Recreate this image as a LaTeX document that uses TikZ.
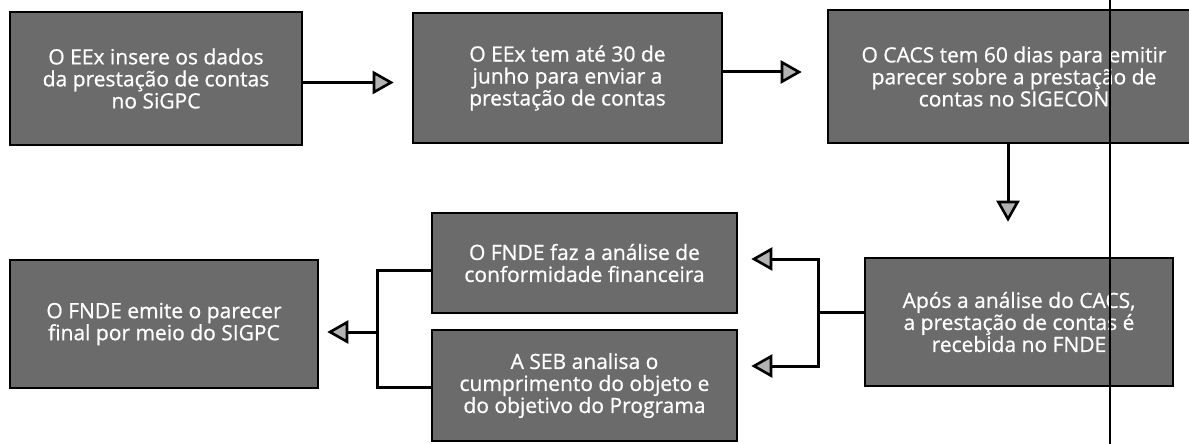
\documentclass[tikz,border=0pt]{standalone}
\usepackage{fontspec}
\setmainfont{Open Sans}
\newfontfamily\boxfont[FakeBold=0.8]{Open Sans}
\usetikzlibrary{arrows.meta,positioning}

\begin{document}
\begin{tikzpicture}[x=1pt,y=1pt,
    stepbox/.style={draw=black, line width=2.6pt, fill=black!58, text=white, align=center,
        inner sep=0pt, font=\boxfont\fontsize{21}{22}\selectfont},
    link/.style={line width=3pt},
    arr/.style={line width=3pt, -{Triangle[length=21pt,width=23pt,fill=black!30,line width=2.6pt]}}]
    \useasboundingbox (0,0) rectangle (1189,-444);

    % Top row - left to right
    \node[stepbox, minimum width=292pt, minimum height=133pt] (dados) at (156,-78.5) {O EEx insere os dados\\da prestação de contas\\no SiGPC};

    \node[stepbox, minimum width=309pt, minimum height=130pt] (prazo) at (567.5,-78) {O EEx tem até 30 de\\junho para enviar a\\prestação de contas};

    \node[stepbox, minimum width=372pt, minimum height=133pt] (cacs) at (1014,-76.5) {O CACS tem 60 dias para emitir\\parecer sobre a prestação de\\contas no SIGECON};

    % Bottom row - right to left
    \node[stepbox, minimum width=308pt, minimum height=128pt] (recebida) at (1019,-322) {Após a análise do CACS,\\a prestação de contas é\\recebida no FNDE};

    \node[stepbox, minimum width=305pt, minimum height=100pt] (financeira) at (584.5,-263) {O FNDE faz a análise de\\conformidade financeira};

    \node[stepbox, minimum width=305pt, minimum height=111pt] (objeto) at (584.5,-385.5) {A SEB analisa o\\cumprimento do objeto e\\do objetivo do Programa};

    \node[stepbox, minimum width=308pt, minimum height=128pt] (parecer) at (164,-324) {O FNDE emite o parecer\\final por meio do SIGPC};

    % Junctions
    \coordinate (splitR) at (818,-312);
    \coordinate (splitL) at (377,-332);

    % Arrows
    \draw[arr, shorten >=18pt] ([yshift=-4pt]dados.east) -- ([yshift=-4pt]dados.east -| prazo.west);
    \draw[arr, shorten >=25pt] ([yshift=6pt]prazo.east) -- ([yshift=6pt]prazo.east -| cacs.west);
    \draw[arr, shorten >=35pt] ([xshift=-6pt]cacs.south) -- ([xshift=-6pt]cacs.south |- recebida.north);
    \draw[link] ([yshift=10pt]recebida.west) -- (splitR);
    \draw[arr, shorten >=13pt] (splitR) |- ([yshift=4pt]financeira.east);
    \draw[arr, shorten >=13pt] (splitR) |- ([yshift=19.5pt]objeto.east);
    \draw[link] ([yshift=-7pt]financeira.west) -| (splitL);
    \draw[link] ([yshift=-1.5pt]objeto.west) -| (splitL);
    \draw[arr, shorten >=8pt] (splitL) -- (splitL -| parecer.east);

    % Vertical line
    \draw[line width=1.5pt] (1110,0) -- (1110,-444);
\end{tikzpicture}
\end{document}
